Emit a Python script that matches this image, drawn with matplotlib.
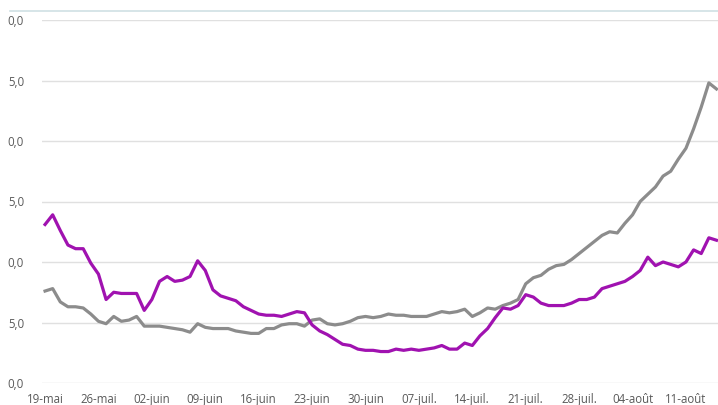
import numpy as np
import matplotlib
matplotlib.use('Agg')
import matplotlib.pyplot as plt
from matplotlib.lines import Line2D

# daily values from 19 May to 15 Aug
purple = [13.1, 13.9, 12.6, 11.4, 11.1, 11.1, 9.9, 9.0, 6.9, 7.5,
          7.4, 7.4, 7.4, 6.0, 6.9, 8.4, 8.8, 8.4, 8.5, 8.8,
          10.1, 9.3, 7.7, 7.2, 7.0, 6.8, 6.3, 6.0, 5.7, 5.6,
          5.6, 5.5, 5.7, 5.9, 5.8, 4.8, 4.3, 4.0, 3.6, 3.2,
          3.1, 2.8, 2.7, 2.7, 2.6, 2.6, 2.8, 2.7, 2.8, 2.7,
          2.8, 2.9, 3.1, 2.8, 2.8, 3.3, 3.1, 3.9, 4.5, 5.4,
          6.2, 6.1, 6.4, 7.3, 7.1, 6.6, 6.4, 6.4, 6.4, 6.6,
          6.9, 6.9, 7.1, 7.8, 8.0, 8.2, 8.4, 8.8, 9.3, 10.4,
          9.7, 10.0, 9.8, 9.6, 10.0, 11.0, 10.7, 12.0, 11.8]
gray = [7.6, 7.8, 6.7, 6.3, 6.3, 6.2, 5.7, 5.1, 4.9, 5.5,
        5.1, 5.2, 5.5, 4.7, 4.7, 4.7, 4.6, 4.5, 4.4, 4.2,
        4.9, 4.6, 4.5, 4.5, 4.5, 4.3, 4.2, 4.1, 4.1, 4.5,
        4.5, 4.8, 4.9, 4.9, 4.7, 5.2, 5.3, 4.9, 4.8, 4.9,
        5.1, 5.4, 5.5, 5.4, 5.5, 5.7, 5.6, 5.6, 5.5, 5.5,
        5.5, 5.7, 5.9, 5.8, 5.9, 6.1, 5.5, 5.8, 6.2, 6.1,
        6.4, 6.6, 6.9, 8.2, 8.7, 8.9, 9.4, 9.7, 9.8, 10.2,
        10.7, 11.2, 11.7, 12.2, 12.5, 12.4, 13.2, 13.9, 15.0, 15.6,
        16.2, 17.1, 17.5, 18.5, 19.4, 21.0, 22.8, 24.8, 24.3]

xlabels = ['19-mai', '26-mai', '02-juin', '09-juin', '16-juin', '23-juin',
           '30-juin', '07-juil.', '14-juil.', '21-juil.', '28-juil.',
           '04-août', '11-août']
yticks = [0, 5, 10, 15, 20, 25, 30]
ylabels = ['0,0', '5,0', '0,0', '5,0', '0,0', '5,0', '0,0']

W, H = 718, 405
fig = plt.figure(figsize=(W / 100, H / 100), dpi=100)
ax = fig.add_axes([42 / W, 22 / H, 676 / W, 363 / H])

x = np.arange(len(purple))
ax.plot(x, gray, color='#8c8c8c', lw=2.3, solid_joinstyle='round', zorder=3)
ax.plot(x, purple, color='#a012b0', lw=2.3, solid_joinstyle='round', zorder=4)

ax.set_xlim(-0.4, 88.2)
ax.set_ylim(0, 30)
ax.set_yticks(yticks)
ax.set_yticklabels(ylabels)
ax.set_xticks(np.arange(0, 7 * len(xlabels), 7))
ax.set_xticklabels(xlabels)
ax.grid(axis='y', color='#e0e0e0', lw=1)
ax.set_axisbelow(True)
for s in ax.spines.values():
    s.set_visible(False)
ax.tick_params(length=0, labelsize=8.3, labelcolor='#595959')
ax.tick_params(axis='y', pad=13)
ax.tick_params(axis='x', pad=7)
for t in ax.get_xticklabels() + ax.get_yticklabels():
    t.set_family('Open Sans')

# thin rule at the top of the frame
fig.add_artist(Line2D([10 / W, 1], [1 - 11 / H, 1 - 11 / H],
                      color='#cfe0e4', lw=1.2, transform=fig.transFigure))

fig.savefig('out.png', dpi=100)
